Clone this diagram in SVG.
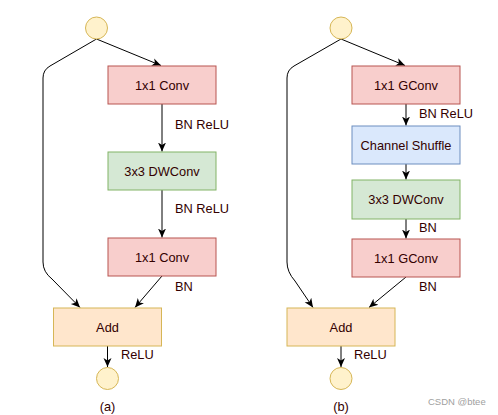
<svg xmlns="http://www.w3.org/2000/svg" width="498" height="415" viewBox="0 0 498 415">
<style>
text{font-family:"Liberation Sans",Arial,sans-serif;font-size:12.8px;fill:#330000}
.c{text-anchor:middle}
.red{fill:#f8cecc;stroke:#b85450}
.grn{fill:#d5e8d4;stroke:#82b366}
.blu{fill:#dae8fc;stroke:#6c8ebf}
.add{fill:#ffe6cc;stroke:#d6b656}
.circ{fill:#fff2cc;stroke:#d6b656}
.ln{fill:none;stroke:#000;stroke-width:1;marker-end:url(#ar)}
</style>
<defs>
<marker id="ar" markerUnits="userSpaceOnUse" markerWidth="10" markerHeight="10" viewBox="0 0 10 10" refX="9" refY="5" orient="auto">
<path d="M0,1 L9,5 L0,9 L2.5,5 z" fill="#000"/>
</marker>
</defs>
<rect width="498" height="415" fill="#fff"/>
<g id="connectors">
<path class="ln" d="M96.5,39 L161,65.5"/>
<path class="ln" d="M96.5,39 L50,66 Q43,70 43,78 L43,262 Q43,272 52,279 L80,307.5"/>
<path class="ln" d="M162,104 L162,151.5"/>
<path class="ln" d="M162,190 L162,237.5"/>
<path class="ln" d="M162,276 L135,307.5"/>
<path class="ln" d="M107.5,346 L107.5,367"/>
<path class="ln" d="M341,39 L405,65.5"/>
<path class="ln" d="M341,39 L294,66 Q287,70 287,78 L287,262 Q287,272 295,281 L313,307.5"/>
<path class="ln" d="M406,104 L406,125.5"/>
<path class="ln" d="M406,164 L406,179.5"/>
<path class="ln" d="M406,219 L406,238.5"/>
<path class="ln" d="M406,277 L369,307.5"/>
<path class="ln" d="M341,346 L341,367"/>
</g>
<g id="labels">
<text x="175" y="129">BN ReLU</text>
<text x="175" y="213">BN ReLU</text>
<text x="175" y="291">BN</text>
<text x="121" y="359">ReLU</text>
<text x="419" y="118">BN ReLU</text>
<text x="419" y="232">BN</text>
<text x="419" y="291">BN</text>
<text x="354" y="359">ReLU</text>
<text class="c" x="107.5" y="411">(a)</text>
<text class="c" x="341" y="411">(b)</text>
<text x="428" y="405" style="font-size:9.5px;fill:#a0a0a0">CSDN @btee</text>
</g>
<g id="a-in"><circle class="circ" cx="96.5" cy="28" r="11"/></g>
<g id="a-conv1"><rect class="red" x="108" y="66" width="108" height="38"/><text class="c" x="162" y="89.5">1x1 Conv</text></g>
<g id="a-dw"><rect class="grn" x="108" y="152" width="108" height="38"/><text class="c" x="162" y="175.5">3x3 DWConv</text></g>
<g id="a-conv2"><rect class="red" x="108" y="238" width="108" height="38"/><text class="c" x="162" y="261.5">1x1 Conv</text></g>
<g id="a-add"><rect class="add" x="53.5" y="308" width="108" height="38"/><text class="c" x="107.5" y="331.5">Add</text></g>
<g id="a-out"><circle class="circ" cx="107.5" cy="378.5" r="11"/></g>
<g id="b-in"><circle class="circ" cx="341" cy="28" r="11"/></g>
<g id="b-gconv1"><rect class="red" x="352" y="66" width="108" height="38"/><text class="c" x="406" y="89.5">1x1 GConv</text></g>
<g id="b-shuffle"><rect class="blu" x="352" y="126" width="108" height="38"/><text class="c" x="406" y="149.5">Channel Shuffle</text></g>
<g id="b-dw"><rect class="grn" x="352" y="180" width="108" height="39"/><text class="c" x="406" y="204">3x3 DWConv</text></g>
<g id="b-gconv2"><rect class="red" x="352" y="239" width="108" height="38"/><text class="c" x="406" y="262.5">1x1 GConv</text></g>
<g id="b-add"><rect class="add" x="287" y="308" width="108" height="38"/><text class="c" x="341" y="331.5">Add</text></g>
<g id="b-out"><circle class="circ" cx="341" cy="378.5" r="11"/></g>
</svg>
